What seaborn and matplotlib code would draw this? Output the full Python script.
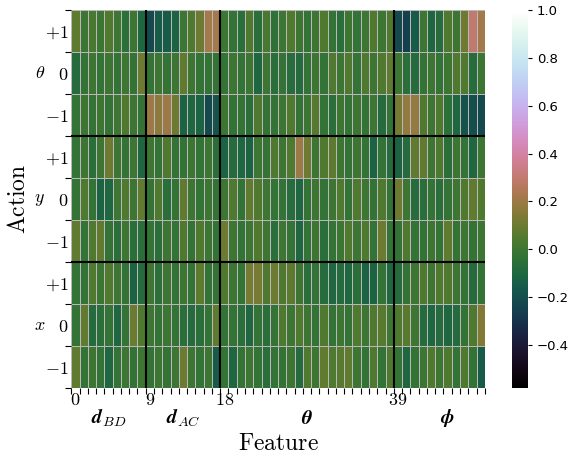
import numpy as np
import pandas as pd
import matplotlib
matplotlib.use("Agg")
import matplotlib.pyplot as plt
import seaborn as sns

# Weights per action (rows) and feature (columns)
theta_plus = [0.07, 0.0, 0.03, 0.0, 0.04, 0.0, -0.05, 0.0, -0.1, -0.22, -0.15, -0.15, -0.12, 0.0, 0.04, 0.1, 0.22, 0.22, 0.0, -0.03, -0.06, 0.04, -0.06, 0.03, -0.04,
              0.0, 0.04, 0.0, -0.03, 0.0, 0.04, -0.03, -0.06, 0.0, -0.03, 0.0, 0.04, 0.0, 0.04, -0.22, -0.25, -0.15, 0.0, -0.1, -0.07, 0.04, 0.0, 0.1, 0.3, 0.22]
theta_zero = [-0.08, -0.03, 0.0, -0.03, 0.0, -0.03, 0.0, -0.03, 0.1, -0.03, 0.0, -0.03, 0.0, 0.08, 0.0, -0.03, -0.03, -0.03, -0.03, 0.0, -0.03, 0.0, -0.1, 0.0, -0.06,
              -0.03, -0.07, -0.08, -0.03, 0.0, -0.03, 0.04, 0.0, 0.04, -0.03, 0.04, 0.0, 0.04, 0.08, 0.0, -0.06, -0.08, -0.03, 0.0, -0.03, 0.0, 0.04, 0.04, -0.07, 0.0]
theta_minus = [-0.03, 0.0, -0.03, 0.0, -0.03, 0.0, 0.04, 0.0, -0.03, 0.2, 0.17, 0.2, 0.1, -0.12, -0.1, -0.12, -0.22, -0.18, 0.0, -0.03, -0.03, -0.06, 0.04, -0.03, -0.03,
               0.0, 0.04, -0.03, 0.0, 0.05, -0.03, -0.06, 0.0, -0.03, 0.0, -0.03, 0.0, -0.08, -0.03, 0.12, 0.18, 0.18, 0.04, 0.0, 0.04, -0.05, -0.1, -0.18, -0.2, -0.22]
y_plus = [-0.03, 0.0, -0.06, 0.0, 0.1, 0.0, -0.03, 0.0, -0.1, 0.0, -0.03, 0.04, -0.03, -0.03, 0.0, -0.03, 0.0, -0.06, -0.12, -0.08, -0.1, -0.12, 0.0, -0.03, 0.04,
          0.0, 0.04, 0.2, 0.1, 0.0, 0.04, 0.07, 0.0, -0.03, 0.0, -0.03, -0.12, -0.03, -0.08, -0.12, -0.08, 0.08, 0.08, 0.0, 0.04, -0.06, 0.0, -0.03, -0.1, 0.0]
y_zero = [-0.03, 0.04, -0.03, -0.12, -0.1, 0.0, 0.04, 0.0, 0.08, -0.03, 0.04, -0.06, -0.03, 0.08, 0.0, -0.03, 0.0, -0.03, 0.0, 0.04, -0.03, 0.08, 0.04, 0.0, -0.03,
          -0.03, -0.07, -0.1, -0.03, 0.0, -0.03, 0.0, 0.04, -0.03, 0.04, 0.0, -0.03, 0.04, -0.03, 0.1, 0.0, -0.07, -0.06, -0.03, -0.06, -0.03, 0.0, 0.04, 0.08, 0.04]
y_minus = [0.08, -0.03, 0.04, 0.08, -0.03, -0.06, 0.0, -0.06, -0.06, -0.03, -0.06, 0.0, -0.03, 0.04, -0.03, 0.04, 0.0, -0.03, 0.1, 0.0, -0.03, 0.0, 0.04, 0.0, -0.06,
           0.0, -0.03, -0.1, -0.03, 0.0, -0.06, -0.03, 0.0, 0.04, 0.0, 0.04, -0.03, 0.1, -0.03, -0.03, 0.04, -0.03, -0.03, 0.0, -0.03, 0.08, -0.03, 0.0, -0.03, 0.0]
x_plus = [-0.03, -0.03, 0.04, 0.0, 0.04, 0.0, -0.03, -0.12, -0.08, 0.0, -0.05, 0.0, -0.03, 0.0, -0.03, 0.07, -0.03, -0.03, 0.04, 0.0, -0.03, 0.12, 0.12, 0.04, 0.1,
          0.04, 0.07, 0.0, -0.06, -0.03, -0.08, -0.1, -0.08, -0.1, -0.06, -0.12, -0.12, -0.03, -0.1, -0.08, -0.03, 0.0, 0.04, 0.0, 0.04, 0.04, 0.0, -0.03, -0.08, -0.03]
x_zero = [-0.03, 0.08, -0.08, -0.06, -0.03, -0.1, -0.03, 0.1, 0.04, 0.0, -0.03, 0.0, -0.03, -0.06, -0.08, -0.06, -0.03, 0.08, -0.03, -0.03, -0.06, -0.1, -0.03, -0.06, -0.03,
          0.04, 0.0, 0.04, 0.0, -0.03, 0.04, -0.03, 0.0, -0.03, 0.04, 0.0, 0.04, 0.06, 0.0, 0.04, 0.06, 0.0, -0.08, -0.1, -0.08, -0.1, -0.08, -0.03, 0.04, 0.15]
x_minus = [0.08, -0.03, 0.0, -0.03, -0.1, -0.03, 0.0, -0.03, 0.0, -0.03, 0.0, -0.03, 0.0, 0.1, 0.0, -0.03, 0.0, -0.15, -0.03, -0.1, -0.03, 0.0, -0.03, -0.06, -0.03,
           -0.03, 0.0, -0.08, 0.04, 0.0, 0.08, 0.04, 0.06, 0.08, 0.0, -0.03, 0.04, -0.03, 0.04, -0.03, -0.1, -0.03, 0.0, 0.04, 0.0, 0.04, -0.03, 0.04, -0.03, -0.15]

rows = [theta_plus, theta_zero, theta_minus, y_plus, y_zero, y_minus, x_plus, x_zero, x_minus]
for r in rows:
    assert len(r) == 50

action_labels = [r'$+1$', r'$0$', r'$-1$'] * 3
action_groups = [r'$\theta$', r'$y$', r'$x$']
feature_ticks = [0, 9, 18, 39]
feature_groups = [r'$\mathbfit{d}_{BD}$', r'$\mathbfit{d}_{AC}$', r'$\mathbfit{\theta}$', r'$\mathbfit{\phi}$']
feature_group_pos = [4.5, 13.5, 28.5, 45.5]

df = pd.DataFrame(rows)

plt.rcParams['mathtext.fontset'] = 'cm'

fig = plt.figure(figsize=(5.73, 4.57), dpi=100)
ax = fig.add_axes([0.1244, 0.151, 0.7217, 0.827])
cax = fig.add_axes([0.8935, 0.151, 0.028, 0.827])

sns.heatmap(df, ax=ax, cbar_ax=cax, cmap='cubehelix', vmin=-0.58, vmax=1.0,
            linewidths=0.6, linecolor='#b8b8b8')

# block separators
for yb in [3, 6]:
    ax.axhline(yb, color='black', lw=1.5)
for xb in feature_ticks[1:]:
    ax.axvline(xb, color='black', lw=1.5)

# ticks on cell borders, labels on cell centres
ax.set_xticks(np.arange(51))
ax.set_xticklabels([])
ax.set_xticks(np.array(feature_ticks) + 0.5, minor=True)
ax.set_xticklabels([f'${t}$' for t in feature_ticks], minor=True, fontsize=13)
ax.set_yticks(np.arange(10))
ax.set_yticklabels([])
ax.set_yticks(np.arange(9) + 0.5, minor=True)
ax.set_yticklabels(action_labels, minor=True, fontsize=13, rotation=0)
ax.tick_params(which='major', length=4, width=0.8)
ax.tick_params(which='minor', length=0)
ax.tick_params(axis='x', which='minor', pad=2)
ax.tick_params(axis='y', which='minor', pad=2)

# group labels
for i, lab in enumerate(action_groups):
    ax.text(-0.076, 1 - (3 * i + 1.5) / 9, lab, transform=ax.transAxes,
            ha='center', va='center', fontsize=13)
ax.text(-0.13, 0.5, r'$\mathrm{Action}$', transform=ax.transAxes, rotation=90,
        ha='center', va='center', fontsize=17)
for pos, lab in zip(feature_group_pos, feature_groups):
    ax.text(pos, 9.72, lab, ha='center', va='center', fontsize=14.5)
ax.text(25, 10.3, r'$\mathrm{Feature}$', ha='center', va='center', fontsize=17)

cax.tick_params(labelsize=9.5, length=3)

fig.savefig('out.png', dpi=100)
